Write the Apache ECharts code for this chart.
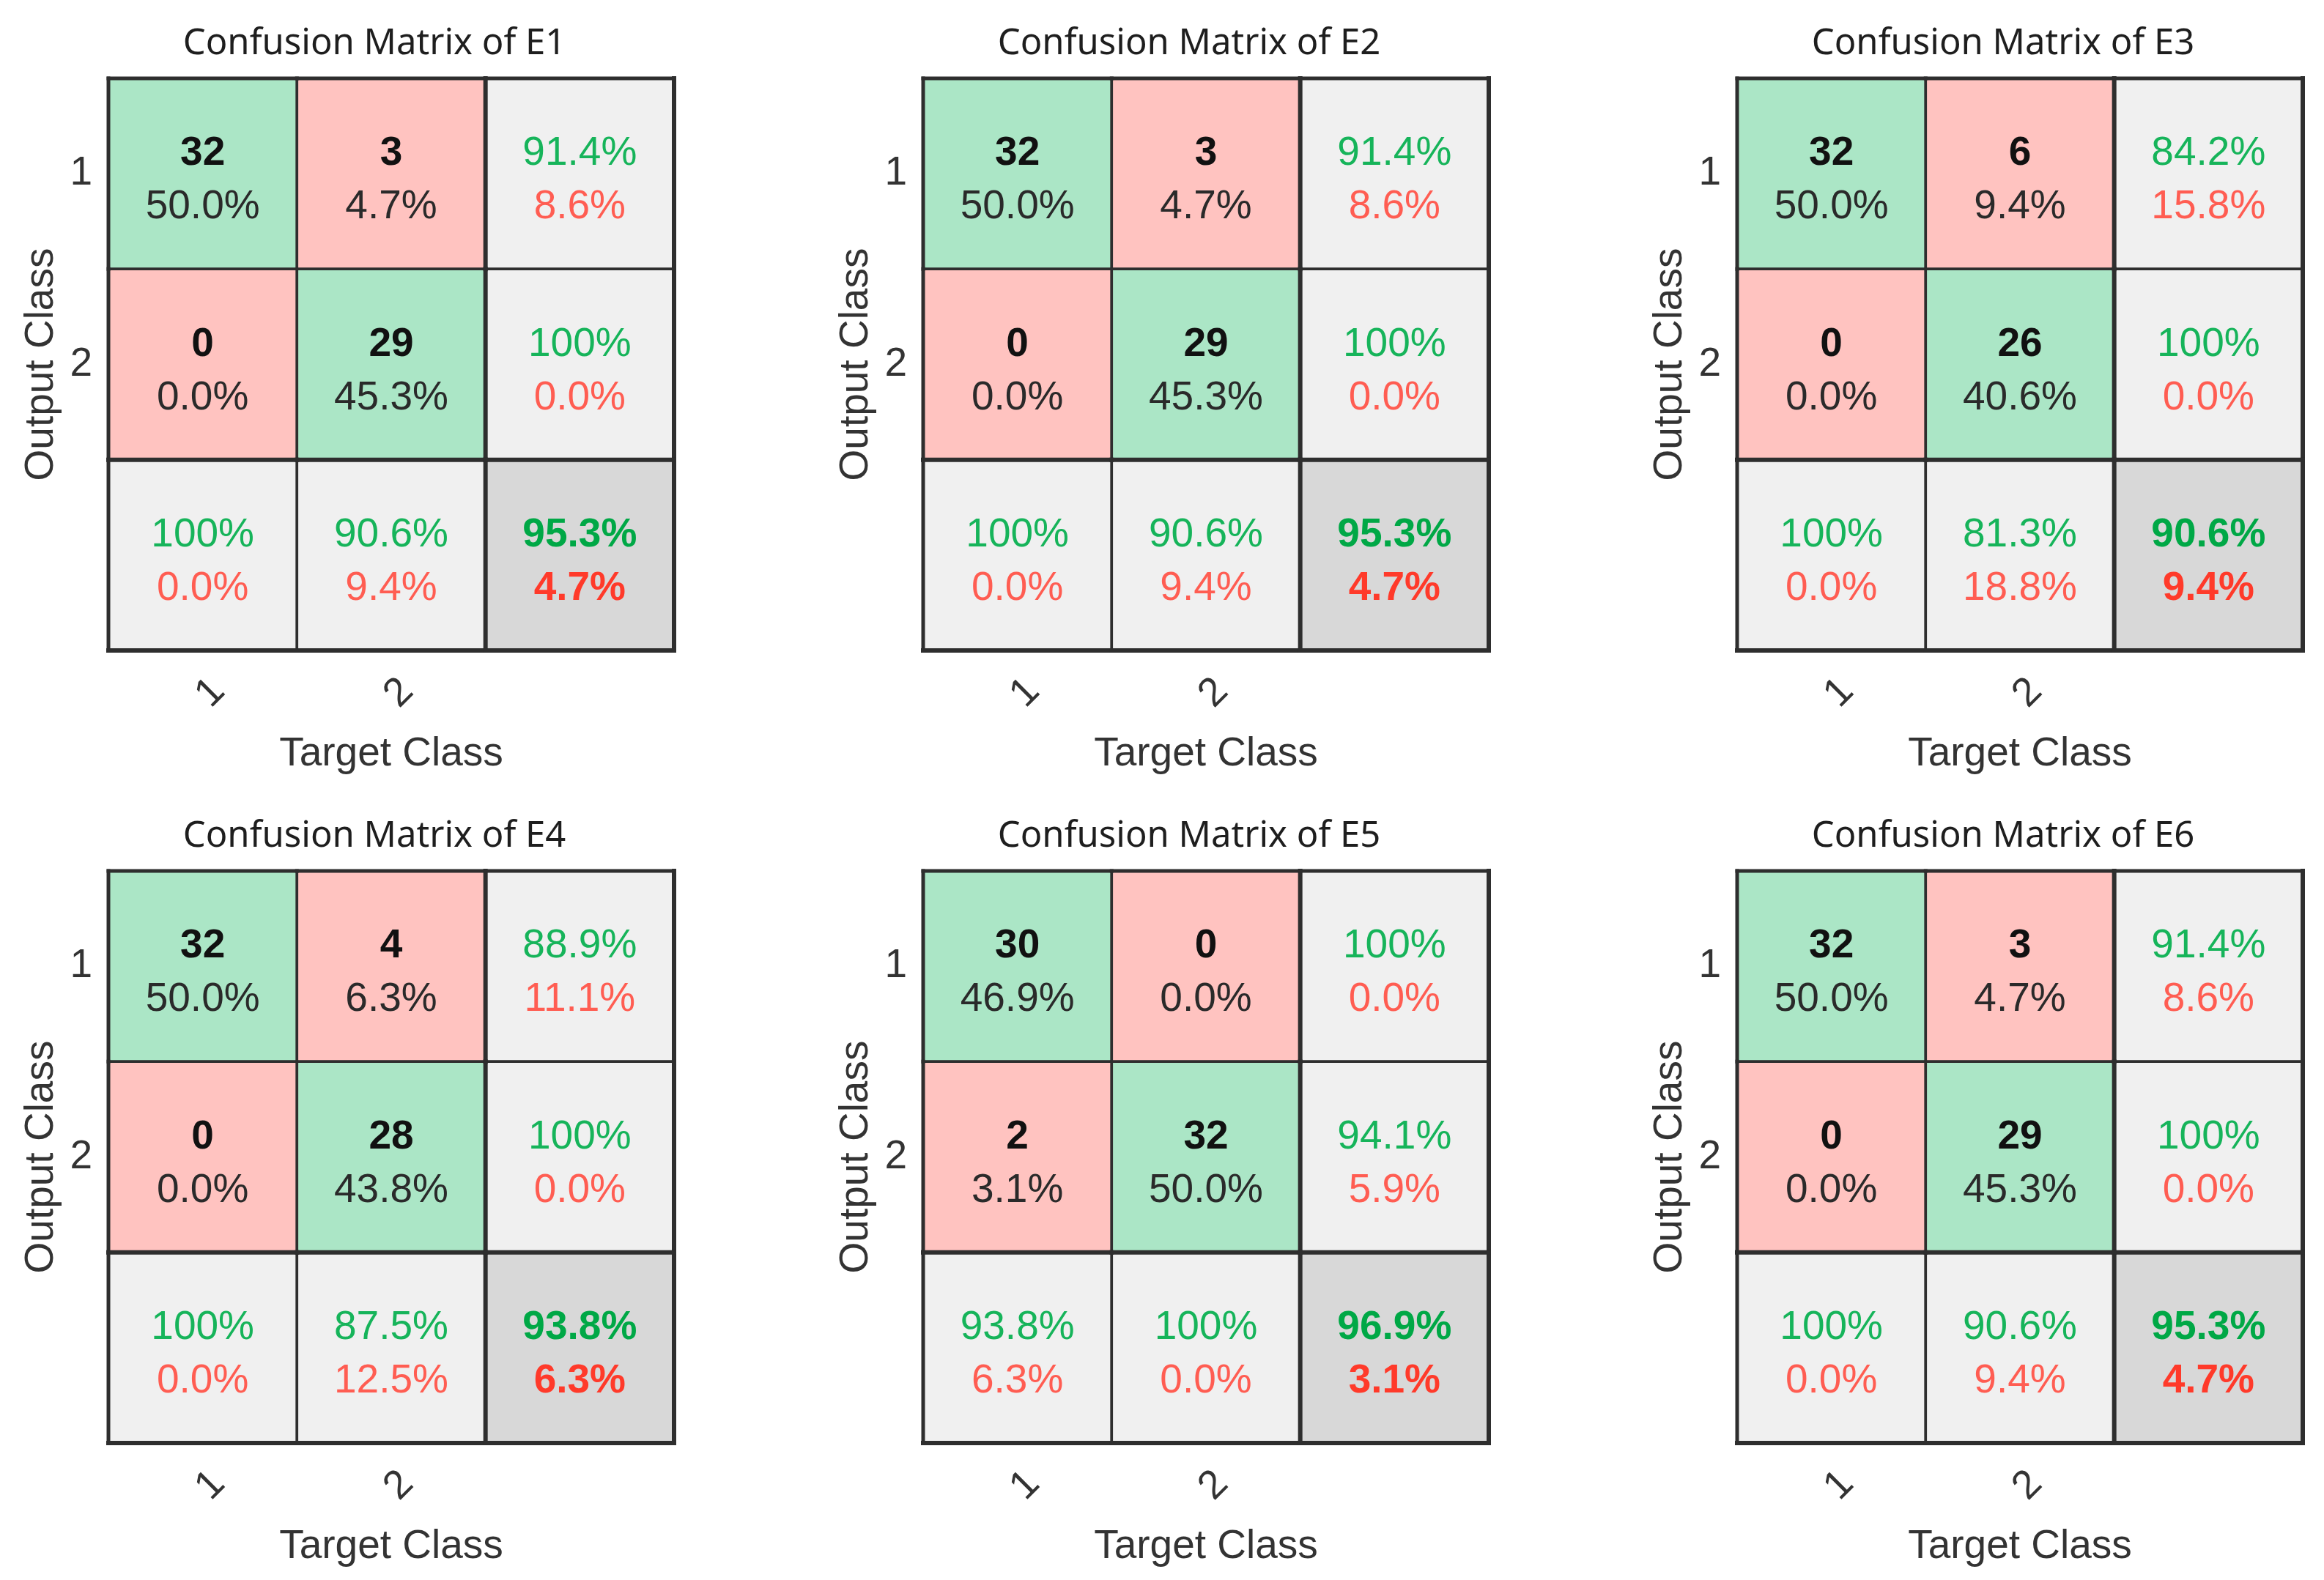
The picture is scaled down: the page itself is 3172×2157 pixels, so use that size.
<!DOCTYPE html>
<html>
<head>
<meta charset="utf-8">
<script src="https://cdn.jsdelivr.net/npm/echarts@6/dist/echarts.min.js"></script>
<style>
html,body{margin:0;padding:0;background:#fff;}
#chart{width:3172px;height:2157px;}
</style>
</head>
<body>
<div id="chart"></div>
<script>
// ---------- data ----------
const panelNames = ['E1', 'E2', 'E3', 'E4', 'E5', 'E6'];
const classLabels = ['1', '2', ''];
// counts[panel][outputRow][targetCol]
const counts = [
  [[32, 3], [0, 29]],
  [[32, 3], [0, 29]],
  [[32, 6], [0, 26]],
  [[32, 4], [0, 28]],
  [[30, 0], [2, 32]],
  [[32, 3], [0, 29]]
];
const countPct = [
  [[50.0, 4.7], [0.0, 45.3]],
  [[50.0, 4.7], [0.0, 45.3]],
  [[50.0, 9.4], [0.0, 40.6]],
  [[50.0, 6.3], [0.0, 43.8]],
  [[46.9, 0.0], [3.1, 50.0]],
  [[50.0, 4.7], [0.0, 45.3]]
];
const rowCorrect = [[91.4, 100], [91.4, 100], [84.2, 100], [88.9, 100], [100, 94.1], [91.4, 100]];
const rowWrong   = [[8.6, 0.0], [8.6, 0.0], [15.8, 0.0], [11.1, 0.0], [0.0, 5.9], [8.6, 0.0]];
const colCorrect = [[100, 90.6], [100, 90.6], [100, 81.3], [100, 87.5], [93.8, 100], [100, 90.6]];
const colWrong   = [[0.0, 9.4], [0.0, 9.4], [0.0, 18.8], [0.0, 12.5], [6.3, 0.0], [0.0, 9.4]];
const totalCorrect = [95.3, 95.3, 90.6, 93.8, 96.9, 95.3];
const totalWrong   = [4.7, 4.7, 9.4, 6.3, 3.1, 4.7];

// ---------- layout / style ----------
const gridLefts = [148, 1260, 2371];
const gridTops = [107, 1189];
const gridW = 772, gridH = 781;
const FONT = '"Liberation Sans", Arial, sans-serif';
const FS = 55;
const C_GREEN_CELL = '#ABE6C6', C_RED_CELL = '#FFC3C0', C_GRAY = '#F0F0F0', C_DGRAY = '#D8D8D8';
const C_GREEN_TXT = '#16B45A', C_RED_TXT = '#FF5D52', C_GREEN_B = '#00A846', C_RED_B = '#FF3A2A';
const C_LINE = '#2E2E2E';

function fmt(v) { return v === 100 ? '100%' : v.toFixed(1) + '%'; }

function buildCells(p) {
  const cells = [];
  for (let r = 0; r < 3; r++) {
    for (let c = 0; c < 3; c++) {
      let fill, t1, t2, s1, s2;
      if (r < 2 && c < 2) {
        fill = r === c ? C_GREEN_CELL : C_RED_CELL;
        t1 = String(counts[p][r][c]); t2 = fmt(countPct[p][r][c]);
        s1 = { fill: '#111', fontWeight: 'bold' }; s2 = { fill: '#2A2A2A', fontWeight: 'normal' };
      } else if (r < 2 && c === 2) {
        fill = C_GRAY; t1 = fmt(rowCorrect[p][r]); t2 = fmt(rowWrong[p][r]);
        s1 = { fill: C_GREEN_TXT, fontWeight: 'normal' }; s2 = { fill: C_RED_TXT, fontWeight: 'normal' };
      } else if (r === 2 && c < 2) {
        fill = C_GRAY; t1 = fmt(colCorrect[p][c]); t2 = fmt(colWrong[p][c]);
        s1 = { fill: C_GREEN_TXT, fontWeight: 'normal' }; s2 = { fill: C_RED_TXT, fontWeight: 'normal' };
      } else {
        fill = C_DGRAY; t1 = fmt(totalCorrect[p]); t2 = fmt(totalWrong[p]);
        s1 = { fill: C_GREEN_B, fontWeight: 'bold' }; s2 = { fill: C_RED_B, fontWeight: 'bold' };
      }
      cells.push({ value: [c, r], fill, t1, t2, s1, s2 });
    }
  }
  return cells;
}

const grids = [], xAxes = [], yAxes = [], series = [], titles = [];
panelNames.forEach(function (name, p) {
  const gl = gridLefts[p % 3], gt = gridTops[Math.floor(p / 3)];
  grids.push({ left: gl, top: gt, width: gridW, height: gridH, containLabel: false });
  titles.push({
    text: 'Confusion Matrix of ' + name,
    left: gl + gridW / 2 - 28, top: gt - 76, textAlign: 'center',
    textStyle: { fontFamily: '"Noto Sans", sans-serif', fontWeight: 'normal', fontSize: 49, color: '#1e1e1e' }
  });
  xAxes.push({
    type: 'category', gridIndex: p, data: classLabels,
    axisLine: { show: false }, axisTick: { show: false }, splitLine: { show: false },
    axisLabel: { rotate: 45, margin: 69, align: 'left', verticalAlign: 'middle', fontSize: FS, fontFamily: FONT, color: '#333', interval: 0 },
    name: 'Target Class', nameLocation: 'middle', nameGap: 114,
    nameTextStyle: { fontSize: FS, fontFamily: FONT, color: '#333' }
  });
  yAxes.push({
    type: 'category', gridIndex: p, data: classLabels, inverse: true,
    axisLine: { show: false }, axisTick: { show: false }, splitLine: { show: false },
    axisLabel: { margin: 22, fontSize: FS, fontFamily: FONT, color: '#333', interval: 0, padding: [10, 0, 0, 0] },
    name: 'Output Class', nameLocation: 'middle', nameGap: 64,
    nameTextStyle: { fontSize: FS, fontFamily: FONT, color: '#333' }
  });
  const cells = buildCells(p);
  series.push({
    type: 'custom', xAxisIndex: p, yAxisIndex: p,
    data: cells.map(function (c) { return c.value; }),
    renderItem: function (params, api) {
      const cell = cells[params.dataIndex];
      const col = api.value(0), row = api.value(1);
      const ctr = api.coord([col, row]);
      const sz = api.size([1, 1]);
      const x0 = ctr[0] - sz[0] / 2, y0 = ctr[1] - sz[1] / 2, x1 = x0 + sz[0], y1 = y0 + sz[1];
      const ch = [
        { type: 'rect', shape: { x: x0, y: y0, width: sz[0], height: sz[1] },
          style: { fill: cell.fill, stroke: C_LINE, lineWidth: 3.5 }, z2: 1 },
        { type: 'text', x: ctr[0], y: ctr[1] - 27, z2: 30,
          style: Object.assign({ text: cell.t1, fontSize: FS, fontFamily: FONT, align: 'center', verticalAlign: 'middle' }, cell.s1) },
        { type: 'text', x: ctr[0], y: ctr[1] + 46, z2: 30,
          style: Object.assign({ text: cell.t2, fontSize: FS, fontFamily: FONT, align: 'center', verticalAlign: 'middle' }, cell.s2) }
      ];
      function ln(ax, ay, bx, by, w) {
        ch.push({ type: 'line', shape: { x1: ax, y1: ay, x2: bx, y2: by },
          style: { stroke: C_LINE, lineWidth: w, lineCap: 'square' }, z2: 20 });
      }
      if (col === 2) { ln(x0, y0, x0, y1, 6); ln(x1, y0, x1, y1, 6); }
      if (row === 2) { ln(x0, y0, x1, y0, 6); ln(x0, y1, x1, y1, 6); }
      if (col === 0) ln(x0, y0, x0, y1, 5);
      if (row === 0) ln(x0, y0, x1, y0, 5);
      return { type: 'group', children: ch };
    }
  });
});

const chart = echarts.init(document.getElementById('chart'), null, { renderer: 'canvas' });
chart.setOption({
  backgroundColor: '#ffffff',
  animation: false,
  title: titles,
  grid: grids,
  xAxis: xAxes,
  yAxis: yAxes,
  series: series
});
</script>
</body>
</html>
